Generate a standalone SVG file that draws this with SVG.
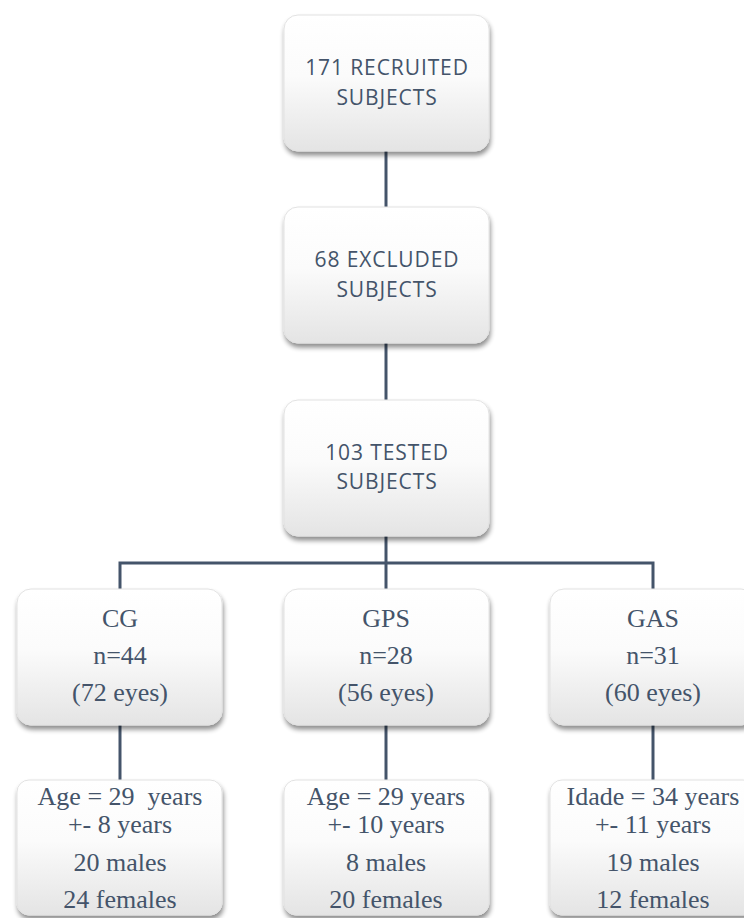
<svg xmlns="http://www.w3.org/2000/svg" width="744" height="918" viewBox="0 0 744 918">
<defs>
<linearGradient id="g" x1="0" y1="0" x2="0" y2="1">
<stop offset="0" stop-color="#ffffff"/>
<stop offset="0.45" stop-color="#fbfbfb"/>
<stop offset="1" stop-color="#e4e4e4"/>
</linearGradient>
<filter id="sh" x="-10%" y="-10%" width="125%" height="130%">
<feGaussianBlur in="SourceAlpha" stdDeviation="2.5"/>
<feOffset dx="1" dy="4" result="b"/>
<feComponentTransfer><feFuncA type="linear" slope="0.45"/></feComponentTransfer>
<feMerge><feMergeNode/><feMergeNode in="SourceGraphic"/></feMerge>
</filter>
</defs>
<style>
.box{fill:url(#g);stroke:#e2e2e2;stroke-width:1;filter:url(#sh)}
.sans{font-family:"Open Sans","Liberation Sans",sans-serif;font-size:21px;letter-spacing:0.9px;fill:#44546a;text-anchor:middle}
.serif{font-family:"Liberation Serif","Times New Roman",serif;font-size:26px;fill:#44546a;text-anchor:middle}
.ln{stroke:#44546a;stroke-width:3;fill:none}
</style>
<rect width="744" height="918" fill="#ffffff"/>
<g id="connectors">
<line class="ln" x1="386" y1="150" x2="386" y2="208"/>
<line class="ln" x1="386" y1="343" x2="386" y2="401"/>
<line class="ln" x1="386" y1="535" x2="386" y2="590"/>
<polyline class="ln" points="120,590 120,563 653,563 653,590"/>
<line class="ln" x1="120" y1="725" x2="120" y2="781"/>
<line class="ln" x1="386" y1="725" x2="386" y2="781"/>
<line class="ln" x1="653" y1="725" x2="653" y2="781"/>
</g>
<g id="recruited">
<rect class="box" x="284" y="15" width="205" height="136" rx="14"/>
<text class="sans" x="387" y="75">171 RECRUITED</text>
<text class="sans" x="387" y="105">SUBJECTS</text>
</g>
<g id="excluded">
<rect class="box" x="284" y="207" width="205" height="136" rx="14"/>
<text class="sans" x="387" y="267">68 EXCLUDED</text>
<text class="sans" x="387" y="297">SUBJECTS</text>
</g>
<g id="tested">
<rect class="box" x="284" y="400" width="205" height="136" rx="14"/>
<text class="sans" x="387" y="460">103 TESTED</text>
<text class="sans" x="387" y="489">SUBJECTS</text>
</g>
<g id="cg">
<rect class="box" x="17" y="589" width="205" height="136" rx="14"/>
<text class="serif" x="120" y="627">CG</text>
<text class="serif" x="120" y="664">n=44</text>
<text class="serif" x="120" y="701">(72 eyes)</text>
</g>
<g id="gps">
<rect class="box" x="284" y="589" width="205" height="136" rx="14"/>
<text class="serif" x="386" y="627">GPS</text>
<text class="serif" x="386" y="664">n=28</text>
<text class="serif" x="386" y="701">(56 eyes)</text>
</g>
<g id="gas">
<rect class="box" x="550" y="589" width="205" height="136" rx="14"/>
<text class="serif" x="653" y="627">GAS</text>
<text class="serif" x="653" y="664">n=31</text>
<text class="serif" x="653" y="701">(60 eyes)</text>
</g>
<g id="cg-stats">
<rect class="box" x="17" y="780" width="205" height="135" rx="12"/>
<text class="serif" x="120" y="805" xml:space="preserve">Age = 29  years</text>
<text class="serif" x="120" y="833">+- 8 years</text>
<text class="serif" x="120" y="871">20 males</text>
<text class="serif" x="120" y="908">24 females</text>
</g>
<g id="gps-stats">
<rect class="box" x="284" y="780" width="205" height="135" rx="12"/>
<text class="serif" x="386" y="805">Age = 29 years</text>
<text class="serif" x="386" y="833">+- 10 years</text>
<text class="serif" x="386" y="871">8 males</text>
<text class="serif" x="386" y="908">20 females</text>
</g>
<g id="gas-stats">
<rect class="box" x="550" y="780" width="205" height="135" rx="12"/>
<text class="serif" x="653" y="805">Idade = 34 years</text>
<text class="serif" x="653" y="833">+- 11 years</text>
<text class="serif" x="653" y="871">19 males</text>
<text class="serif" x="653" y="908">12 females</text>
</g>
</svg>
